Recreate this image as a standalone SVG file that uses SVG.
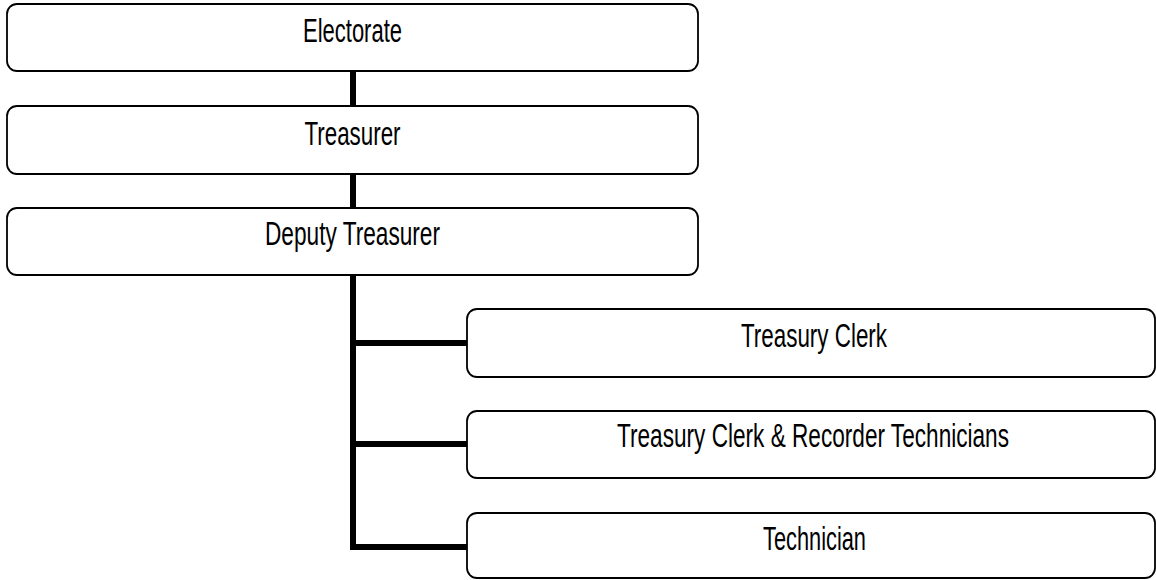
<svg xmlns="http://www.w3.org/2000/svg" width="1156" height="580" viewBox="0 0 1156 580">
<style>
.box{fill:#fff;stroke:#000;stroke-width:1.8}
.lbl{font-family:"Liberation Sans",Arial,sans-serif;font-size:33px;fill:#000;text-anchor:middle}
.con{fill:none;stroke:#000;stroke-width:6}
</style>
<rect width="1156" height="580" fill="#fff"/>
<g id="connectors">
<line class="con" x1="353" y1="71" x2="353" y2="106"/>
<line class="con" x1="353" y1="174" x2="353" y2="208"/>
<polyline class="con" points="353,275 353,547 467,547"/>
<line class="con" x1="353" y1="343" x2="467" y2="343"/>
<line class="con" x1="353" y1="444" x2="467" y2="444"/>
</g>
<g id="electorate">
<rect class="box" x="7" y="4" width="691" height="67" rx="10"/>
<text class="lbl" x="352.5" y="42" textLength="99" lengthAdjust="spacingAndGlyphs">Electorate</text>
</g>
<g id="treasurer">
<rect class="box" x="7" y="106" width="691" height="68" rx="10"/>
<text class="lbl" x="352.5" y="145" textLength="96" lengthAdjust="spacingAndGlyphs">Treasurer</text>
</g>
<g id="deputy-treasurer">
<rect class="box" x="7" y="208" width="691" height="67" rx="10"/>
<text class="lbl" x="352.5" y="245" textLength="175" lengthAdjust="spacingAndGlyphs">Deputy Treasurer</text>
</g>
<g id="treasury-clerk">
<rect class="box" x="467" y="309" width="688" height="68" rx="10"/>
<text class="lbl" x="814" y="347" textLength="146" lengthAdjust="spacingAndGlyphs">Treasury Clerk</text>
</g>
<g id="clerk-recorder">
<rect class="box" x="467" y="411" width="688" height="67" rx="10"/>
<text class="lbl" x="813" y="447" textLength="392" lengthAdjust="spacingAndGlyphs">Treasury Clerk &amp; Recorder Technicians</text>
</g>
<g id="technician">
<rect class="box" x="467" y="513" width="688" height="65" rx="10"/>
<text class="lbl" x="814.5" y="550" textLength="103" lengthAdjust="spacingAndGlyphs">Technician</text>
</g>
</svg>
